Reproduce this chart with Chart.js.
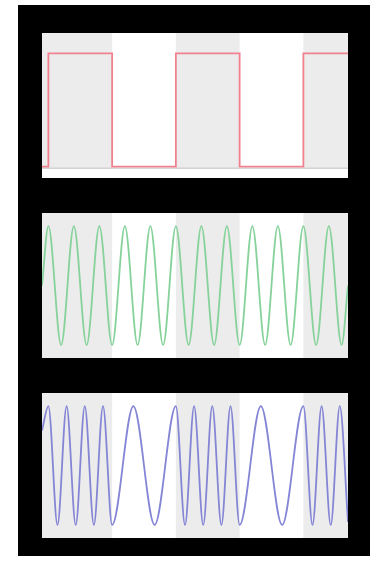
<!DOCTYPE html>
<html>
<head>
<meta charset="utf-8">
<script src="https://cdn.jsdelivr.net/npm/chart.js@4"></script>
<style>
  html, body { margin: 0; padding: 0; background: #fff; }
  body { width: 374px; height: 561px; position: relative; overflow: hidden; }
  .frame { position: absolute; left: 18px; top: 5px; width: 352px; height: 551px; background: #000; }
  .panel { position: absolute; left: 42px; width: 306px; height: 145px; background: #fff; }
  .panel canvas { display: block; }
</style>
</head>
<body>
<div class="frame"></div>
<div class="panel" style="top:33px"><canvas id="bitsChart"></canvas></div>
<div class="panel" style="top:213px"><canvas id="carrierChart"></canvas></div>
<div class="panel" style="top:393px"><canvas id="fskChart"></canvas></div>
<script>
// time axis in bit periods
const tStart = -0.1;
const tEnd = 4.7;

// shaded (bit = 1) intervals
const shadeStart = [-0.1, 2, 4];
const shadeEnd = [1, 3, 4.7];

// square wave: value holds from each time until the next
const bitTimes = [-0.1, 0, 1, 2, 3, 4, 4.7];
const bitValues = [0, 1, 0, 1, 0, 1, 1];

// carrier: peaks and troughs
const carrierTimes = [-0.1, 0, 0.2, 0.4, 0.6, 0.8, 1.0, 1.2, 1.4, 1.6, 1.8, 2.0, 2.2, 2.4, 2.6, 2.8, 3.0, 3.2, 3.4, 3.6, 3.8, 4.0, 4.2, 4.4, 4.6, 4.7];
const carrierValues = [0, 1, -1, 1, -1, 1, -1, 1, -1, 1, -1, 1, -1, 1, -1, 1, -1, 1, -1, 1, -1, 1, -1, 1, -1, 0];

// fsk signal: fast in shaded bits, slow in the others
const fskTimes = [-0.1, 0, 0.143, 0.286, 0.429, 0.571, 0.714, 0.857, 1.0, 1.333, 1.667, 2.0, 2.143, 2.286, 2.429, 2.571, 2.714, 2.857, 3.0, 3.333, 3.667, 4.0, 4.143, 4.286, 4.429, 4.571, 4.7];
const fskValues = [0.59, 1, -1, 1, -1, 1, -1, 1, -1, 1, -1, 1, -1, 1, -1, 1, -1, 1, -1, 1, -1, 1, -1, 1, -1, 1, -0.95];

function toPoints(xs, ys) {
  return xs.map((x, i) => ({ x: x, y: ys[i] }));
}

const bandsPlugin = {
  id: "bands",
  beforeDatasetsDraw(chart, args, opts) {
    const { ctx, chartArea, scales } = chart;
    const x = scales.x;
    const bottom = opts.toZero ? scales.y.getPixelForValue(0) + 2 : chartArea.bottom;
    ctx.save();
    ctx.fillStyle = "#ececec";
    shadeStart.forEach((s, i) => {
      const x0 = x.getPixelForValue(s);
      const x1 = x.getPixelForValue(shadeEnd[i]);
      ctx.fillRect(x0, chartArea.top, x1 - x0, bottom - chartArea.top);
    });
    if (opts.toZero) {
      ctx.strokeStyle = "#c4c4c4";
      ctx.lineWidth = 1;
      ctx.beginPath();
      ctx.moveTo(chartArea.left, bottom - 0.5);
      ctx.lineTo(chartArea.right, bottom - 0.5);
      ctx.stroke();
    }
    ctx.restore();
  },
};

function makeChart(id, points, color, yMin, yMax, lineOpts, toZero) {
  const ctx = document.getElementById(id).getContext("2d");
  return new Chart(ctx, {
    type: "line",
    data: {
      datasets: [
        Object.assign({
          data: points,
          borderColor: color,
          borderWidth: 1.8,
          pointRadius: 0,
          fill: false,
        }, lineOpts),
      ],
    },
    options: {
      responsive: true,
      maintainAspectRatio: false,
      animation: false,
      layout: { padding: 0 },
      plugins: {
        legend: { display: false },
        tooltip: { enabled: false },
        bands: { toZero: toZero },
      },
      scales: {
        x: { type: "linear", min: tStart, max: tEnd, display: false },
        y: { min: yMin, max: yMax, display: false },
      },
    },
    plugins: [bandsPlugin],
  });
}

makeChart("bitsChart", toPoints(bitTimes, bitValues), "#f0828f", -0.1, 1.18, { stepped: true }, true);
makeChart("carrierChart", toPoints(carrierTimes, carrierValues), "#86d29a", -1.22, 1.22, { cubicInterpolationMode: "monotone" }, false);
makeChart("fskChart", toPoints(fskTimes, fskValues), "#8585d6", -1.22, 1.22, { cubicInterpolationMode: "monotone" }, false);
</script>
</body>
</html>
